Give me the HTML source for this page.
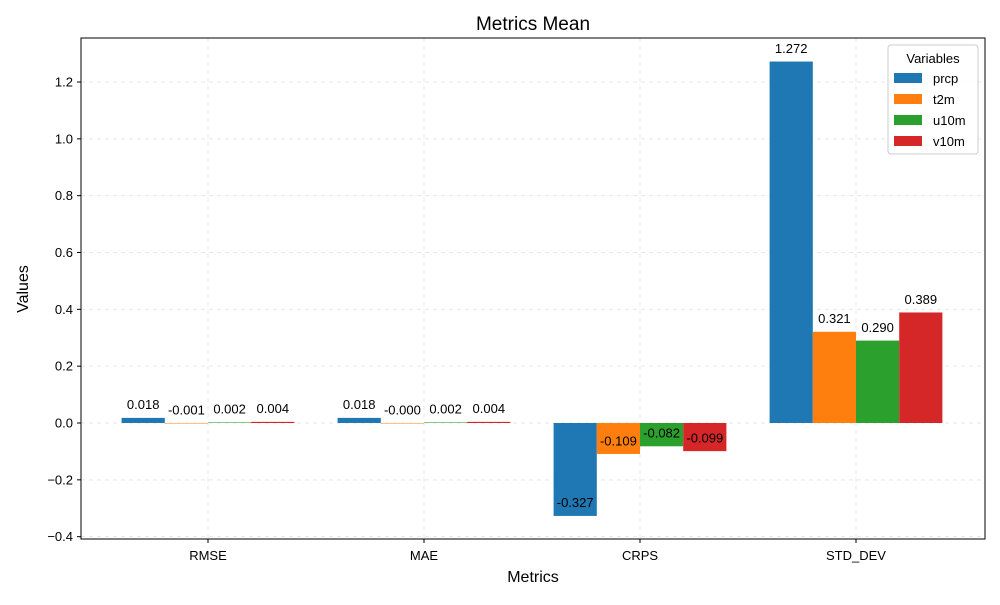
<!DOCTYPE html>
<html><head><meta charset="utf-8"><style>body{margin:0;background:#fff}svg{font-family:"Liberation Sans",sans-serif}</style></head>
<body>
<svg id="chart" width="1000" height="600" xmlns="http://www.w3.org/2000/svg"></svg>
<script>
const categories = ["RMSE","MAE","CRPS","STD_DEV"];
const seriesNames = ["prcp","t2m","u10m","v10m"];
const prcp = [0.018, 0.018, -0.327, 1.272];
const t2m = [-0.001, -0.000, -0.109, 0.321];
const u10m = [0.002, 0.002, -0.082, 0.290];
const v10m = [0.004, 0.004, -0.099, 0.389];
const labels = [["0.018","0.018","-0.327","1.272"],["-0.001","-0.000","-0.109","0.321"],["0.002","0.002","-0.082","0.290"],["0.004","0.004","-0.099","0.389"]];
const yTicks = [-0.4,-0.2,0.0,0.2,0.4,0.6,0.8,1.0,1.2];
const colors = ["#1f77b4","#ff7f0e","#2ca02c","#d62728"];
const series=[prcp,t2m,u10m,v10m];
const L=81,R=985,T=38,B=539;
const y0=423, k=284.17;
const Y=v=>y0-v*k;
const X=i=>208+i*216;
const bw=43.2;
const svg=document.getElementById('chart');
const NS="http://www.w3.org/2000/svg";
function mk(t,a,txt,name,inter){const e=document.createElementNS(NS,t);for(const q in a)e.setAttribute(q,a[q]);if(txt!==undefined)e.textContent=txt;


svg.appendChild(e);return e;}
// grid
yTicks.forEach(t=>{mk('line',{x1:L,x2:R,y1:Y(t),y2:Y(t),stroke:'#b0b0b0','stroke-opacity':0.3,'stroke-dasharray':'4,4'},undefined,'y-gridline');});
categories.forEach((c,i)=>{mk('line',{x1:X(i),x2:X(i),y1:T,y2:B,stroke:'#b0b0b0','stroke-opacity':0.3,'stroke-dasharray':'4,4'},undefined,'x-gridline');});
// bars
series.forEach((s,j)=>{s.forEach((v,i)=>{const cx=X(i)+(j-1.5)*bw;const y=Math.min(Y(v),Y(0));const h=Math.abs(Y(v)-Y(0));
mk('rect',{x:cx-bw/2,y:y,width:bw,height:Math.max(h,0.5),fill:colors[j]},undefined,'bar-'+seriesNames[j]+'-'+categories[i].toLowerCase());
mk('text',{x:cx,y:Y(v+0.02)-3,'text-anchor':'middle','font-size':13,fill:'#000'},labels[j][i],'value-label');});});
// axes frame
mk('rect',{x:L,y:T,width:R-L,height:B-T,fill:'none',stroke:'#000','stroke-width':1},undefined,'plot-frame');
yTicks.forEach(t=>{mk('line',{x1:L-4,x2:L,y1:Y(t),y2:Y(t),stroke:'#000'},undefined,'y-tick');
mk('text',{x:L-8,y:Y(t)+4.5,'text-anchor':'end','font-size':13},(t<0?'\u2212':'')+Math.abs(t).toFixed(1),'y-tick-label');});
categories.forEach((c,i)=>{mk('line',{x1:X(i),x2:X(i),y1:B,y2:B+4,stroke:'#000'},undefined,'x-tick');
mk('text',{x:X(i),y:B+21,'text-anchor':'middle','font-size':13},c,'x-tick-label');});
mk('text',{x:533,y:30,'text-anchor':'middle','font-size':19},'Metrics Mean','chart-title');
mk('text',{x:533,y:582,'text-anchor':'middle','font-size':16},'Metrics','x-axis-title');
mk('text',{x:28,y:289,'text-anchor':'middle','font-size':16,transform:'rotate(-90 28 289)'},'Values','y-axis-title');
// legend
mk('rect',{x:888,y:45,width:90,height:109,rx:3,fill:'#fff','fill-opacity':0.8,stroke:'#ccc'},undefined,'legend-box');
mk('text',{x:933,y:63,'text-anchor':'middle','font-size':13},'Variables','legend-title');
seriesNames.forEach((n,j)=>{const ly=73+j*21;
mk('rect',{x:894,y:ly,width:28,height:10,fill:colors[j]},undefined,'legend-swatch-'+n);
mk('text',{x:933,y:ly+10,'font-size':13},n,'legend-entry-'+n);});
</script>
</body></html>
